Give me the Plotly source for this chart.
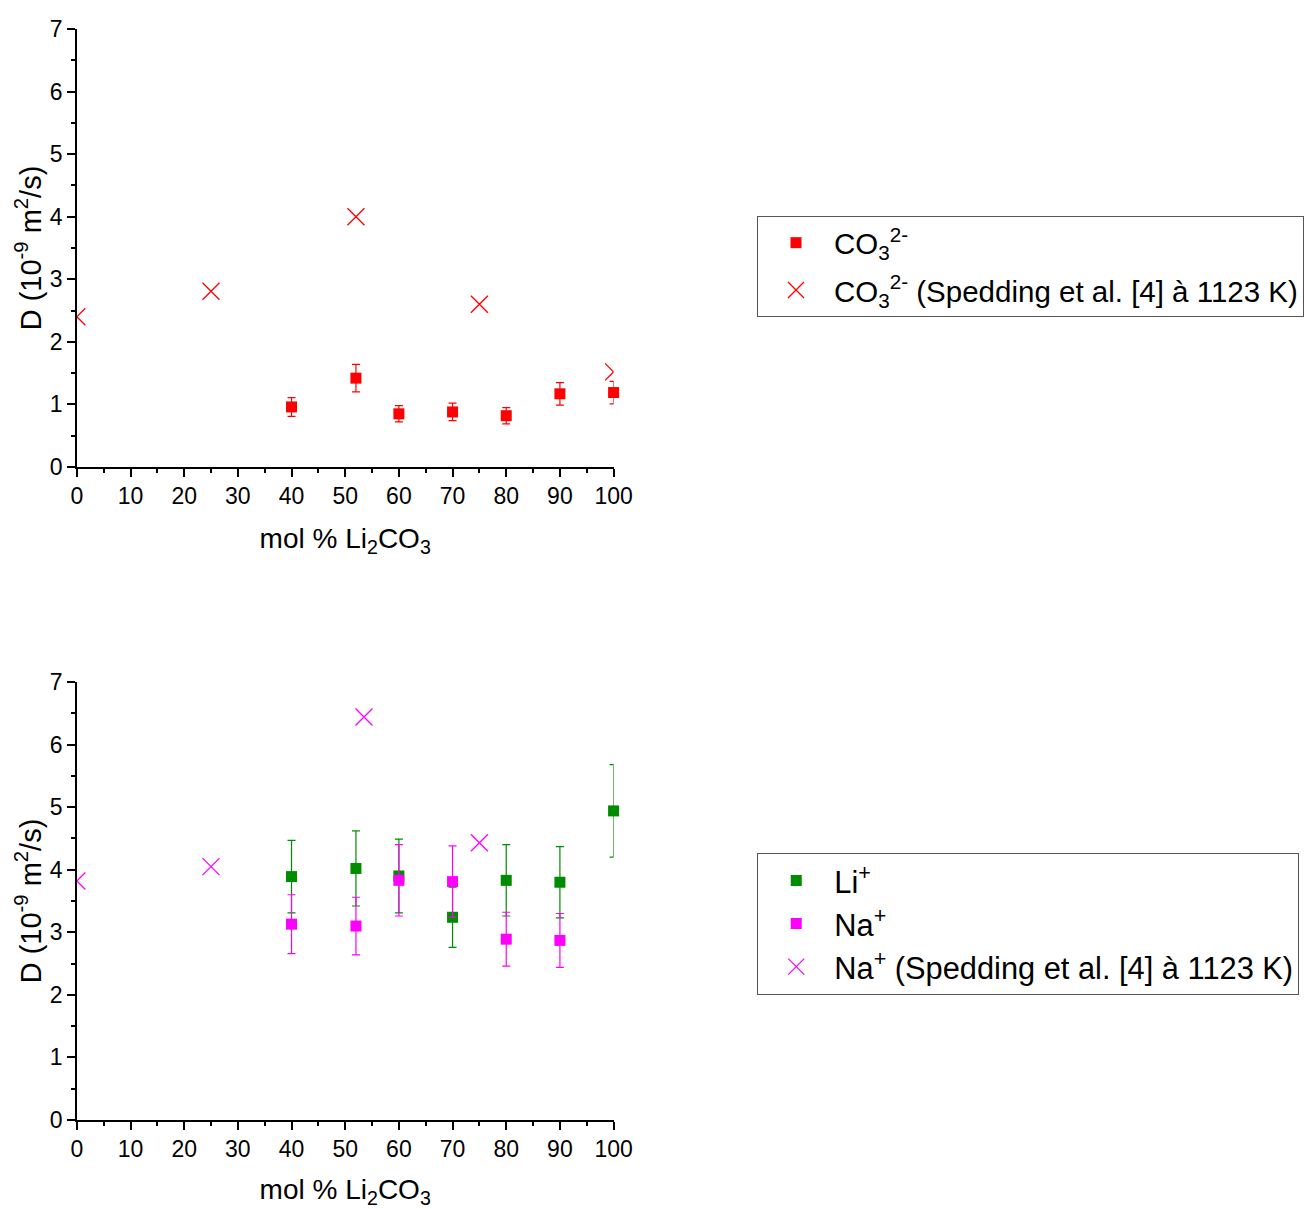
import plotly.graph_objects as go

# ---- data ----
x_meas = [40, 52, 60, 70, 80, 90, 100]
co3_D = [0.96, 1.42, 0.85, 0.88, 0.82, 1.17, 1.19]
co3_err = [0.15, 0.22, 0.13, 0.14, 0.13, 0.18, 0.18]

co3_ref_x = [0, 25, 52, 75, 100]
co3_ref_D = [2.40, 2.81, 4.00, 2.60, 1.52]

li_x = [40, 52, 60, 70, 80, 90, 100]
li_D = [3.89, 4.02, 3.90, 3.24, 3.83, 3.80, 4.94]
li_err = [0.58, 0.60, 0.59, 0.48, 0.57, 0.57, 0.74]

na_x = [40, 52, 60, 70, 80, 90]
na_D = [3.13, 3.10, 3.83, 3.81, 2.89, 2.87]
na_err = [0.47, 0.46, 0.57, 0.57, 0.43, 0.43]

na_ref_x = [0, 25, 53.5, 75]
na_ref_D = [3.82, 4.05, 6.44, 4.43]

x_ticks = [0, 10, 20, 30, 40, 50, 60, 70, 80, 90, 100]
y_ticks = [0, 1, 2, 3, 4, 5, 6, 7]

FONT = "Liberation Sans, Arial, sans-serif"
RED = "#ff0000"
GREEN = "#008c00"
MAGENTA = "#ff00ff"

fig = go.Figure()

fig.add_trace(go.Scatter(
    x=x_meas, y=co3_D, mode="markers", name="CO<sub>3</sub><sup>2-</sup>",
    marker=dict(symbol="square", size=11, color=RED), cliponaxis=False,
    error_y=dict(type="data", array=co3_err, color=RED, thickness=1.2, width=4),
    xaxis="x", yaxis="y", legend="legend", legendgroup="a"))
fig.add_trace(go.Scatter(
    x=co3_ref_x, y=co3_ref_D, mode="markers",
    name="CO<sub>3</sub><sup>2-</sup> (Spedding et al. [4] à 1123 K)",
    marker=dict(symbol="x-thin-open", size=17, color=RED, line=dict(width=1.3, color=RED)),
    cliponaxis=True,
    xaxis="x", yaxis="y", legend="legend", legendgroup="b"))

fig.add_trace(go.Scatter(
    x=li_x, y=li_D, mode="markers", name="Li<sup>+</sup>",
    marker=dict(symbol="square", size=11, color=GREEN), cliponaxis=False,
    error_y=dict(type="data", array=li_err, color=GREEN, thickness=1.2, width=4),
    xaxis="x2", yaxis="y2", legend="legend2", legendgroup="c"))
fig.add_trace(go.Scatter(
    x=na_x, y=na_D, mode="markers", name="Na<sup>+</sup>",
    marker=dict(symbol="square", size=11, color=MAGENTA), cliponaxis=False,
    error_y=dict(type="data", array=na_err, color=MAGENTA, thickness=1.2, width=4),
    xaxis="x2", yaxis="y2", legend="legend2", legendgroup="d"))
fig.add_trace(go.Scatter(
    x=na_ref_x, y=na_ref_D, mode="markers",
    name="Na<sup>+</sup> (Spedding et al. [4] à 1123 K)",
    marker=dict(symbol="x-thin-open", size=17, color=MAGENTA, line=dict(width=1.3, color=MAGENTA)),
    cliponaxis=True,
    xaxis="x2", yaxis="y2", legend="legend2", legendgroup="e"))

W, H = 1304, 1209
def px_x(p):
    return p / W
def px_y(p):
    return 1 - p / H

xdom = [px_x(77), px_x(615)]
top_dom = [px_y(467), px_y(29)]
bot_dom = [px_y(1120), px_y(682)]

def xax(anchor):
    return dict(
        domain=xdom, anchor=anchor, range=[0, 100], tickvals=x_ticks, automargin=False,
        showgrid=False, zeroline=False, showline=True, linecolor="black", linewidth=1.5,
        ticks="outside", ticklen=8, tickwidth=1.5, tickcolor="black",
        minor=dict(dtick=5, ticks="outside", ticklen=4, tickwidth=1.5, tickcolor="black"),
        tickfont=dict(family=FONT, size=23, color="black"),
        title=dict(text="mol % Li<sub>2</sub>CO<sub>3</sub>", font=dict(family=FONT, size=28, color="black"), standoff=20),
    )

def yax(anchor, dom):
    return dict(
        domain=dom, anchor=anchor, range=[0, 7], tickvals=y_ticks, automargin=False,
        showgrid=False, zeroline=False, showline=True, linecolor="black", linewidth=1.5,
        ticks="outside", ticklen=8, tickwidth=1.5, tickcolor="black",
        minor=dict(dtick=0.5, ticks="outside", ticklen=4, tickwidth=1.5, tickcolor="black"),
        tickfont=dict(family=FONT, size=23, color="black"),
        title=dict(text="D (10<sup>-9</sup> m<sup>2</sup>/s)", font=dict(family=FONT, size=29, color="black"), standoff=0),
    )

leg_common = dict(
    xanchor="left", yanchor="top", bgcolor="white",
    bordercolor="#555555", borderwidth=1,
    itemsizing="trace", itemwidth=66,
)

fig.update_layout(
    width=W, height=H,
    margin=dict(l=0, r=0, t=0, b=0),
    paper_bgcolor="white", plot_bgcolor="white",
    showlegend=True,
    xaxis=xax("y"),
    yaxis=yax("x", top_dom),
    xaxis2=xax("y2"),
    yaxis2=yax("x2", bot_dom),
    legend=dict(x=px_x(759), y=px_y(216), tracegroupgap=6,
                font=dict(family=FONT, size=29.5, color="black"), **leg_common),
    legend2=dict(x=px_x(759), y=px_y(853), tracegroupgap=0,
                 font=dict(family=FONT, size=30.8, color="black"), **leg_common),
)

# remove the browser's default page margin so the figure sits at the window origin
fig.write_html(
    "out.html",
    config={"displayModeBar": False},
    post_script="document.documentElement.style.overflow='hidden';"
                "document.body.style.margin='0';document.body.style.overflow='hidden';",
)
